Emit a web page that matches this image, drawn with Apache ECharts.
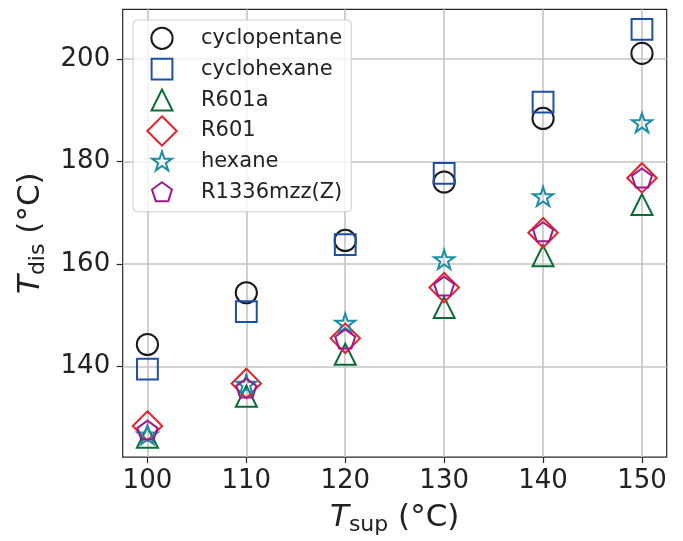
<!DOCTYPE html>
<html>
<head>
<meta charset="utf-8">
<script src="https://cdn.jsdelivr.net/npm/echarts@6/dist/echarts.min.js"></script>
<style>
html,body{margin:0;padding:0;background:#fff;}
#chart{width:683px;height:541px;}
</style>
</head>
<body>
<div id="chart"></div>
<script>
// ---- data ----
const supplyTemps = [100, 110, 120, 130, 140, 150];
const cyclopentane = [144.3, 154.4, 164.6, 176.0, 188.4, 201.1];
const cyclohexane = [139.5, 150.7, 163.8, 177.7, 191.6, 205.8];
const r601a = [126.2, 134.2, 142.4, 151.5, 161.6, 171.6];
const r601 = [128.4, 136.7, 145.5, 155.4, 166.1, 176.8];
const hexane = [126.5, 136.4, 148.3, 160.7, 173.0, 187.4];
const r1336 = [127.4, 135.6, 145.2, 155.5, 166.1, 176.6];
const seriesNames = ['cyclopentane', 'cyclohexane', 'R601a', 'R601', 'hexane', 'R1336mzz(Z)'];
const xTickValues = [100, 110, 120, 130, 140, 150];
const yTickValues = [140, 160, 180, 200];

// ---- marker shapes (30x30 frame, centre 15,15) ----
const F = 30, C = 15;
const PAD = 'M0 0M' + F + ' ' + F;
function poly(pts){ return 'path://' + PAD + 'M' + pts.map(p => p[0].toFixed(3)+' '+p[1].toFixed(3)).join('L') + 'Z'; }
const R = 10.5;
function regular(n, r, inner){
  const pts = [];
  const steps = inner ? n*2 : n;
  for (let k = 0; k < steps; k++){
    const ang = -Math.PI/2 + k*2*Math.PI/steps;
    const rr = inner ? (k%2===0 ? r : r*inner) : r;
    pts.push([C + rr*Math.cos(ang), C + rr*Math.sin(ang)]);
  }
  return pts;
}
const CR = 10.6, SQ = 10.4, DM = 14.7;
const CIRCLE = 'path://' + PAD + 'M' + (C-CR) + ' ' + C + 'A' + CR + ' ' + CR + ' 0 1 0 ' + (C+CR) + ' ' + C + 'A' + CR + ' ' + CR + ' 0 1 0 ' + (C-CR) + ' ' + C + 'Z';
const SQUARE = poly([[C-SQ,C-SQ],[C+SQ,C-SQ],[C+SQ,C+SQ],[C-SQ,C+SQ]]);
const TRIANGLE = poly([[C,C-R],[C+R,C+R],[C-R,C+R]]);
const DIAMOND = poly([[C,C-DM],[C+DM,C],[C,C+DM],[C-DM,C]]);
const STAR = poly(regular(5, R, 0.381966));
const PENTAGON = poly(regular(5, R, 0));

const symbols = [CIRCLE, SQUARE, TRIANGLE, DIAMOND, STAR, PENTAGON];
const colors = ['#1a1a1a', '#1f4ea6', '#0b6b36', '#e8202a', '#1b8ea6', '#9c1a8c'];
const values = [cyclopentane, cyclohexane, r601a, r601, hexane, r1336];

const FONT = 'DejaVu Sans';
const chart = echarts.init(document.getElementById('chart'), null, {renderer:'canvas'});

const series = seriesNames.map((name, i) => ({
  name,
  type: 'scatter',
  symbol: symbols[i],
  symbolSize: F,
  data: supplyTemps.map((x, j) => [x, values[i][j]]),
  itemStyle: { color: 'rgba(0,0,0,0)', borderColor: colors[i], borderWidth: 2, opacity: 1 },
  emphasis: { disabled: true },
  z: 3 + i * 0.01
}));

const titleRich = {
  i: { fontFamily: FONT, fontSize: 31, fontStyle: 'italic', color: '#222', lineHeight: 31 },
  s: { fontFamily: FONT, fontSize: 22, color: '#222', lineHeight: 22, padding: [15, 0, 0, 0] },
  n: { fontFamily: FONT, fontSize: 31, color: '#222', lineHeight: 31 }
};

chart.setOption({
  animation: false,
  backgroundColor: '#fff',
  grid: { left: 122.7, right: 16.3, top: 9.3, bottom: 81.7, show: true, borderColor: '#262626', borderWidth: 1.2, backgroundColor: 'transparent' },
  legend: {
    orient: 'vertical',
    left: 133, top: 20,
    padding: [2.3, 9, 3, 13],
    itemWidth: F, itemHeight: F, itemGap: -1.1,
    backgroundColor: 'rgba(255,255,255,0.8)',
    borderColor: '#cccccc', borderWidth: 1, borderRadius: 4,
    textStyle: { fontFamily: FONT, fontSize: 21, color: '#222', lineHeight: 28, padding: [0,0,0,19] },
    itemStyle: { borderWidth: 2, opacity: 1 },
    data: seriesNames,
    selectedMode: false
  },
  xAxis: {
    type: 'value',
    min: 97.5, max: 152.5,
    minInterval: 10, maxInterval: 10,
    splitNumber: 5,
    axisLine: { show: false },
    axisTick: { show: true, length: 6, lineStyle: { color: '#262626', width: 1.2 }, customValues: xTickValues },
    axisLabel: { fontFamily: FONT, fontSize: 26, color: '#222', margin: 11, customValues: xTickValues },
    splitLine: { show: true, lineStyle: { color: '#c4c4c4', width: 1.6 } },
    name: '{i|T}{s|sup}{n| (°C)}',
    nameLocation: 'middle',
    nameGap: 41,
    nameTextStyle: { fontFamily: FONT, color: '#222', rich: titleRich }
  },
  yAxis: {
    type: 'value',
    min: 122.33, max: 209.7,
    minInterval: 20, maxInterval: 20,
    splitNumber: 4,
    axisLine: { show: false },
    axisTick: { show: true, length: 6, lineStyle: { color: '#262626', width: 1.2 }, customValues: yTickValues },
    axisLabel: { fontFamily: FONT, fontSize: 26, color: '#222', margin: 12.5, customValues: yTickValues },
    splitLine: { show: true, lineStyle: { color: '#c4c4c4', width: 1.6 } },
    name: '{i|T}{s|dis}{n| (°C)}',
    nameLocation: 'middle',
    nameGap: 59,
    nameTextStyle: { fontFamily: FONT, color: '#222', rich: titleRich }
  },
  series
});
</script>
</body>
</html>
